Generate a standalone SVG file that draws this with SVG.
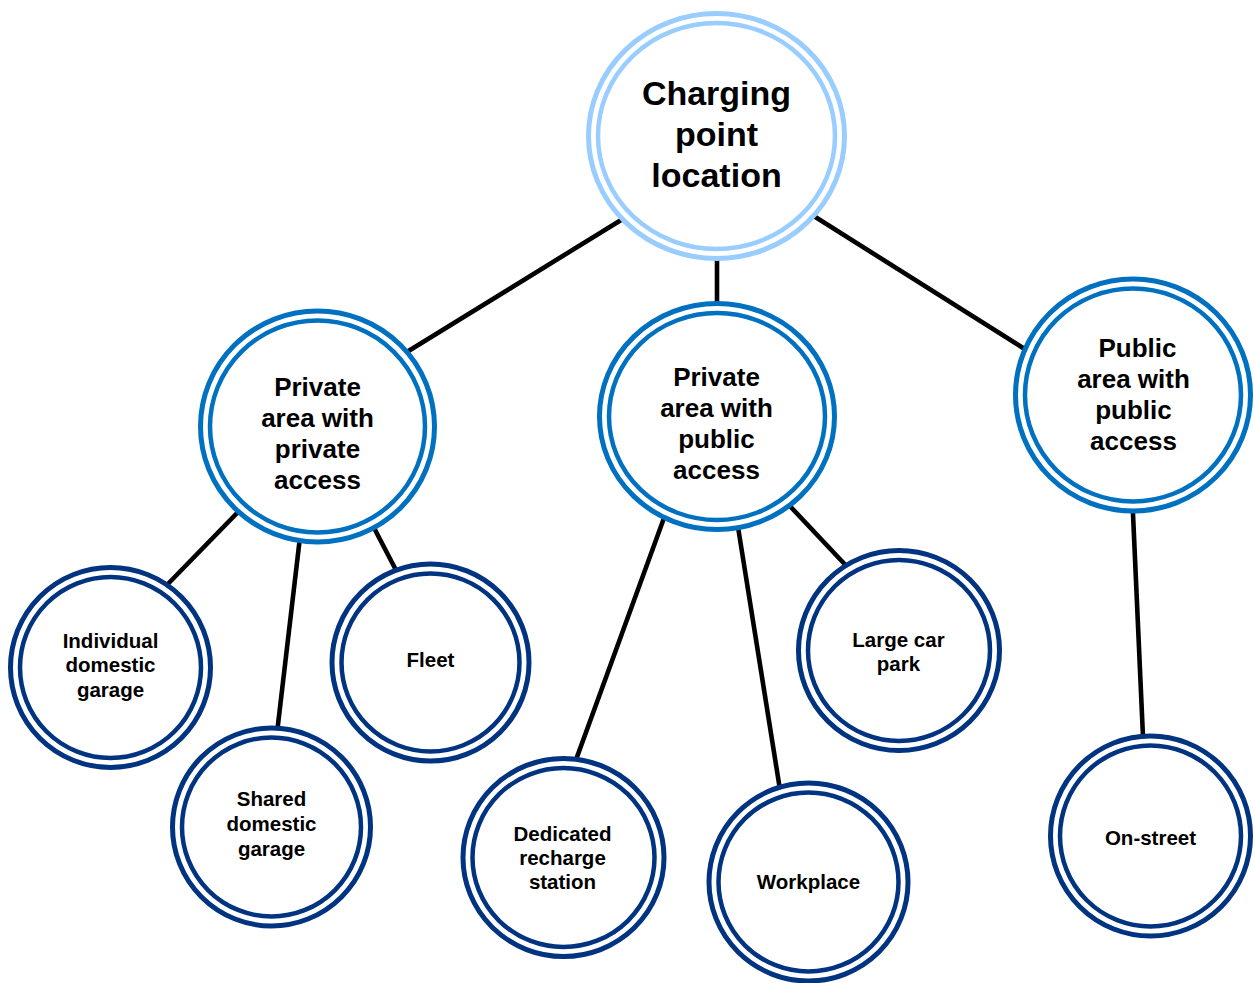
<svg xmlns="http://www.w3.org/2000/svg" width="1255" height="983" viewBox="0 0 1255 983">
<style>
.conn line{stroke:#000;stroke-width:4.6;}
.o{fill:#fff;stroke-width:5;}
.i{fill:#fff;stroke-width:4.5;}
.top ellipse{stroke:#99CCFF;}
.mid ellipse{stroke:#0070C0;}
.leaf ellipse{stroke:#003380;}
text{font-family:"Liberation Sans",Arial,sans-serif;font-weight:bold;fill:#000;text-anchor:middle;}
.t1{font-size:34px;}
.t2{font-size:26px;}
.t3{font-size:20.5px;}
</style>
<rect width="1255" height="983" fill="#fff"/>
<g id="connectors" class="conn">
<line x1="626" y1="217" x2="402" y2="355"/>
<line x1="717" y1="258" x2="717" y2="306"/>
<line x1="809" y1="213" x2="1031" y2="353"/>
<line x1="242" y1="508" x2="163" y2="589"/>
<line x1="300" y1="537" x2="277" y2="733"/>
<line x1="372" y1="524" x2="398" y2="574"/>
<line x1="664" y1="518" x2="573" y2="768"/>
<line x1="738" y1="527" x2="781" y2="796"/>
<line x1="788" y1="504" x2="853" y2="573"/>
<line x1="1132.6" y1="505" x2="1143.4" y2="746"/>
</g>
<g id="n-root" class="top">
<ellipse class="o" cx="716.5" cy="136" rx="128" ry="122.5"/>
<ellipse class="i" cx="716.5" cy="136" rx="118.5" ry="113"/>
<text class="t1" x="716.5" y="105">Charging</text>
<text class="t1" x="716.5" y="146">point</text>
<text class="t1" x="716.5" y="187">location</text>
</g>
<g id="n-priv-priv" class="mid">
<ellipse class="o" cx="317.5" cy="426.5" rx="117" ry="115.5"/>
<ellipse class="i" cx="317.5" cy="426.5" rx="107.5" ry="106"/>
<text class="t2" x="317.5" y="396">Private</text>
<text class="t2" x="317.5" y="427">area with</text>
<text class="t2" x="317.5" y="458">private</text>
<text class="t2" x="317.5" y="489">access</text>
</g>
<g id="n-priv-pub" class="mid">
<ellipse class="o" cx="717" cy="416.5" rx="117.5" ry="113"/>
<ellipse class="i" cx="717" cy="416.5" rx="108" ry="103.5"/>
<text class="t2" x="716.5" y="386">Private</text>
<text class="t2" x="716.5" y="417">area with</text>
<text class="t2" x="716.5" y="448">public</text>
<text class="t2" x="716.5" y="479">access</text>
</g>
<g id="n-pub-pub" class="mid">
<ellipse class="o" cx="1133" cy="395" rx="117.5" ry="116"/>
<ellipse class="i" cx="1133" cy="395" rx="108" ry="106.5"/>
<text class="t2" x="1137.5" y="357">Public</text>
<text class="t2" x="1133.5" y="388">area with</text>
<text class="t2" x="1133.5" y="419">public</text>
<text class="t2" x="1133.5" y="450">access</text>
</g>
<g id="n-individual" class="leaf">
<ellipse class="o" cx="110.5" cy="667.5" rx="100" ry="100"/>
<ellipse class="i" cx="110.5" cy="667.5" rx="90.5" ry="90.5"/>
<text class="t3" x="110.5" y="648">Individual</text>
<text class="t3" x="110.5" y="672">domestic</text>
<text class="t3" x="110.5" y="697">garage</text>
</g>
<g id="n-shared" class="leaf">
<ellipse class="o" cx="271.5" cy="827" rx="99" ry="99"/>
<ellipse class="i" cx="271.5" cy="827" rx="89.5" ry="89.5"/>
<text class="t3" x="271.5" y="806">Shared</text>
<text class="t3" x="271.5" y="831">domestic</text>
<text class="t3" x="271.5" y="856">garage</text>
</g>
<g id="n-fleet" class="leaf">
<ellipse class="o" cx="430.5" cy="662.5" rx="98.5" ry="98.5"/>
<ellipse class="i" cx="430.5" cy="662.5" rx="89" ry="89"/>
<text class="t3" x="430.5" y="667">Fleet</text>
</g>
<g id="n-dedicated" class="leaf">
<ellipse class="o" cx="563.5" cy="857.5" rx="100.5" ry="99"/>
<ellipse class="i" cx="563.5" cy="857.5" rx="91" ry="89.5"/>
<text class="t3" x="562.5" y="841">Dedicated</text>
<text class="t3" x="562.5" y="865">recharge</text>
<text class="t3" x="562.5" y="889">station</text>
</g>
<g id="n-workplace" class="leaf">
<ellipse class="o" cx="808.5" cy="882" rx="99.5" ry="99"/>
<ellipse class="i" cx="808.5" cy="882" rx="90" ry="89.5"/>
<text class="t3" x="808.5" y="889">Workplace</text>
</g>
<g id="n-carpark" class="leaf">
<ellipse class="o" cx="899" cy="650.5" rx="100.5" ry="100"/>
<ellipse class="i" cx="899" cy="650.5" rx="91" ry="90.5"/>
<text class="t3" x="898.5" y="647">Large car</text>
<text class="t3" x="898.5" y="671">park</text>
</g>
<g id="n-onstreet" class="leaf">
<ellipse class="o" cx="1150.5" cy="836" rx="100" ry="100"/>
<ellipse class="i" cx="1150.5" cy="836" rx="90.5" ry="90.5"/>
<text class="t3" x="1150.5" y="845">On-street</text>
</g>
</svg>
